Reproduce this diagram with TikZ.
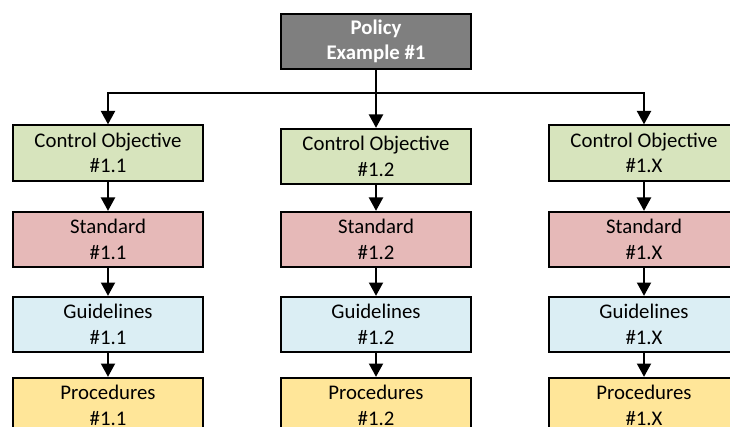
\documentclass[tikz,border=0pt]{standalone}
\usepackage{fontspec}
\setmainfont{Carlito}
\usetikzlibrary{arrows.meta}
\definecolor{polgray}{HTML}{7F7F7F}
\definecolor{cogreen}{HTML}{D7E4BD}
\definecolor{stdred}{HTML}{E6B9B8}
\definecolor{glblue}{HTML}{DBEEF4}
\definecolor{pryellow}{HTML}{FFE699}

\begin{document}
\begin{tikzpicture}[x=0.75pt, y=-0.75pt,
  box/.style={draw=black, line width=1.5pt, minimum width=142.5pt, minimum height=41.5pt,
    inner sep=0pt, align=center, font=\fontsize{15.6}{19.2}\selectfont},
  link/.style={line width=1.5pt, -{Triangle[length=10pt,width=10.5pt]}}]
\useasboundingbox (0,0) rectangle (730,427);       %画布大小与原图一致
\clip (0,0) rectangle (730,427);
\node[box, fill=polgray, text=white, font=\fontsize{15.6}{19.2}\selectfont\bfseries] (pol) at (376,41.5) {Policy\\Example \#1};   %顶层方框
\coordinate (bus) at (376,93);       %横线与中线的交点
% 第一列
\node[box, fill=cogreen] (co1) at (108,153) {Control Objective\\\#1.1};
\node[box, fill=stdred] (std1) at (108,239.5) {Standard\\\#1.1};
\node[box, fill=glblue] (gl1) at (108,324.5) {Guidelines\\\#1.1};
\node[box, fill=pryellow] (pr1) at (108,405.5) {Procedures\\\#1.1};
% 第二列
\node[box, fill=cogreen] (co2) at (376,156.5) {Control Objective\\\#1.2};
\node[box, fill=stdred] (std2) at (376,239.5) {Standard\\\#1.2};
\node[box, fill=glblue] (gl2) at (376,324.5) {Guidelines\\\#1.2};
\node[box, fill=pryellow] (pr2) at (376,405.5) {Procedures\\\#1.2};
% 第三列
\node[box, fill=cogreen] (cox) at (644,153) {Control Objective\\\#1.X};
\node[box, fill=stdred] (stdx) at (644,239.5) {Standard\\\#1.X};
\node[box, fill=glblue] (glx) at (644,324.5) {Guidelines\\\#1.X};
\node[box, fill=pryellow] (prx) at (644,405.5) {Procedures\\\#1.X};
% 连线
\draw[link] (pol.south) -- (co2.north);
\draw[link] (bus) -| (co1.north);
\draw[link] (bus) -| (cox.north);
\draw[link] (co1) -- (std1);
\draw[link] (std1) -- (gl1);
\draw[link] (gl1) -- (pr1);
\draw[link] (co2) -- (std2);
\draw[link] (std2) -- (gl2);
\draw[link] (gl2) -- (pr2);
\draw[link] (cox) -- (stdx);
\draw[link] (stdx) -- (glx);
\draw[link] (glx) -- (prx);
\end{tikzpicture}
\end{document}
